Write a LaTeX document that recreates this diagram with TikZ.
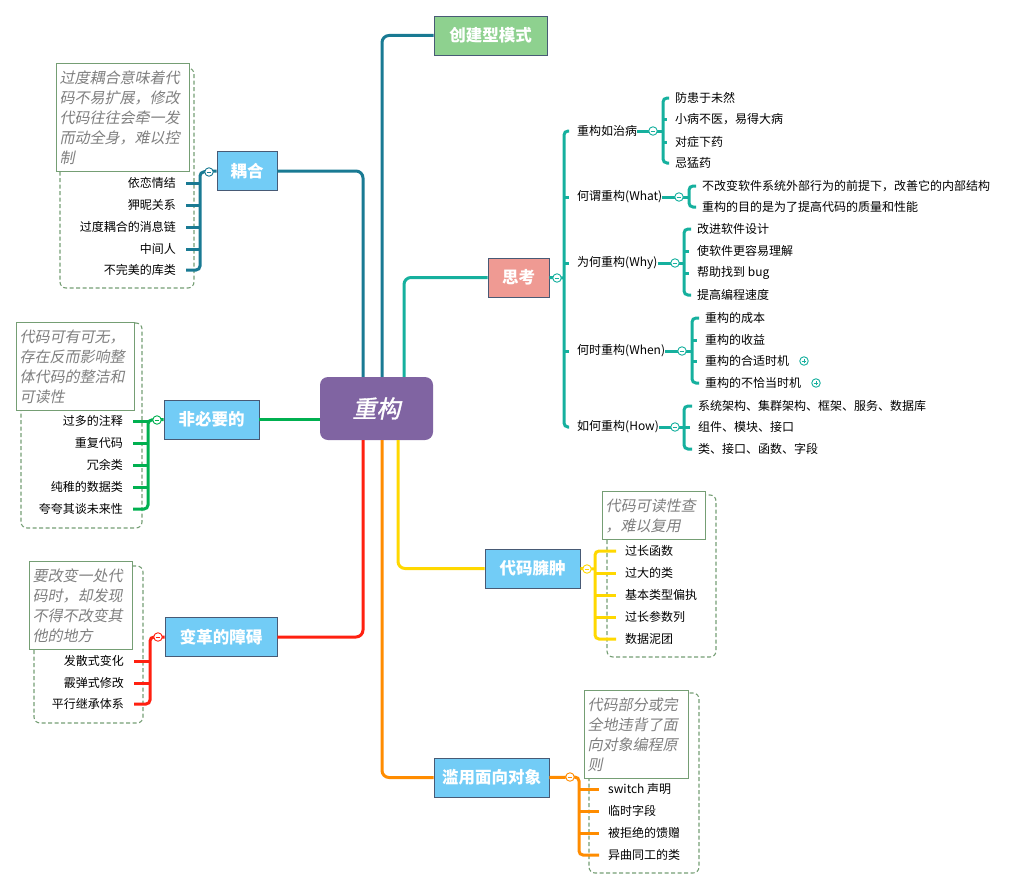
\documentclass[tikz,border=0pt]{standalone}
\usepackage{fontspec}
\setmainfont{Noto Sans CJK SC}
\newfontfamily\slantfont[FakeSlant=0.2]{Noto Sans CJK SC}
\newfontfamily\rootfont[FakeSlant=0.2,FakeBold=1.5]{Noto Sans CJK SC}

\definecolor{cpl}{HTML}{197A93}
\definecolor{sk}{HTML}{16B09E}
\definecolor{grn}{HTML}{00B050}
\definecolor{rd}{HTML}{FF2010}
\definecolor{ylw}{HTML}{FFD800}
\definecolor{org}{HTML}{FF8C00}
\definecolor{topicblue}{HTML}{72CCF6}
\definecolor{topicgreen}{HTML}{8ED18F}
\definecolor{topicred}{HTML}{EF9A93}
\definecolor{topicdraw}{HTML}{485A75}
\definecolor{rootpurple}{HTML}{8064A2}
\definecolor{notegreen}{HTML}{759E74}
\definecolor{notegrey}{HTML}{7F7F7F}

\tikzset{
  rootbox/.style={fill=rootpurple, rounded corners=8pt, text=white, minimum width=113pt, minimum height=63pt, font=\rootfont\fontsize{24}{24}\selectfont},
  topic/.style={draw=topicdraw, line width=0.8pt, fill=topicblue, text=white, font=\bfseries\fontsize{16.5}{17}\selectfont, minimum height=39pt, inner sep=0pt},
  leaf/.style={font=\fontsize{12}{14}\selectfont, inner sep=0pt},
  note/.style={draw=notegreen, line width=1.3pt, fill=white, text=notegrey, font=\slantfont\fontsize{15}{20}\selectfont, align=left, anchor=north west, inner sep=3pt},
  group/.style={draw=notegreen, dash pattern=on 4pt off 2.5pt, line width=1.1pt, rounded corners=6pt},
  branch/.style={line width=3pt, rounded corners=7pt},
  twig/.style={line width=3pt, rounded corners=4pt},
  tog/.style={circle, draw, fill=white, line width=0.9pt, minimum size=8.5pt, inner sep=0pt,
    path picture={\draw[line width=0.7pt] ([xshift=-2.3pt]path picture bounding box.center) -- ([xshift=2.3pt]path picture bounding box.center);}},
  togplus/.style={circle, draw, fill=white, line width=0.9pt, minimum size=8.5pt, inner sep=0pt,
    path picture={\draw[line width=0.7pt] ([xshift=-2.3pt]path picture bounding box.center) -- ([xshift=2.3pt]path picture bounding box.center)
      ([yshift=-2.3pt]path picture bounding box.center) -- ([yshift=2.3pt]path picture bounding box.center);}},
}

\begin{document}
\begin{tikzpicture}[x=1pt,y=-1pt]
    \useasboundingbox (0,0) rectangle (1019,891);
    % centre and main topics
    \node[rootbox] (root) at (376.5,408.5) {重构};
    \node[topic,minimum width=60pt] (ouhe) at (247,171) {耦合};
    \node[topic,minimum width=113pt,fill=topicgreen] (cjx) at (490.5,35.5) {创建型模式};
    \node[topic,minimum width=61pt,fill=topicred] (sk) at (518.5,277.5) {思考};
    \node[topic,minimum width=95pt] (fbl) at (211.5,419.5) {非必要的};
    \node[topic,minimum width=112pt] (bg) at (221,637) {变革的障碍};
    \node[topic,minimum width=95pt] (yz) at (532.5,568.5) {代码臃肿};
    \node[topic,minimum width=115pt] (ly) at (491.5,777.5) {滥用面向对象};

    \draw[branch,cpl] ([xshift=-13.5pt]root.north) |- (ouhe.east);
    \draw[branch,cpl] ([xshift=5.5pt]root.north) |- (cjx.west);
    \draw[branch,sk] ([xshift=27.5pt]root.north) |- (sk.west);
    \draw[branch,grn] (root.west |- fbl.east) -- (fbl.east);
    \draw[branch,rd] ([xshift=-13.5pt]root.south) |- (bg.east);
    \draw[branch,ylw] ([xshift=21.5pt]root.south) |- (yz.west);
    \draw[branch,org] ([xshift=5.5pt]root.south) |- (ly.west);

    % 耦合
    \draw[group] (60,68) rectangle (194,288);
    \node[note,text width=127pt,minimum height=108pt] (ouheN) at (56,63) {过度耦合意味着代\\码不易扩展，修改\\代码往往会牵一发\\而动全身，难以控\\制};
    \node[leaf,anchor=east] (o1) at (176,183) {依恋情结};
    \node[leaf,anchor=east] (o2) at (176,205) {狎昵关系};
    \node[leaf,anchor=east] (o3) at (176,227) {过度耦合的消息链};
    \node[leaf,anchor=east] (o4) at (176,249) {中间人};
    \node[leaf,anchor=east] (o5) at (176,270) {不完美的库类};
    \coordinate (ouheB) at (200,172);
    \draw[twig,cpl] (ouhe.west) -- (ouheB) -- (ouheB |- o5.east) -- ([xshift=10pt]o5.east);
    \draw[twig,cpl] ([xshift=10pt]o1.east) -- (ouheB |- o1.east);
    \draw[twig,cpl] ([xshift=10pt]o2.east) -- (ouheB |- o2.east);
    \draw[twig,cpl] ([xshift=10pt]o3.east) -- (ouheB |- o3.east);
    \draw[twig,cpl] ([xshift=10pt]o4.east) -- (ouheB |- o4.east);
    \node[tog,draw=cpl] (ouheT) at (209,172) {};

    % 非必要的
    \draw[group] (21,323) rectangle (142,528);
    \node[note,text width=112pt,minimum height=88pt] (fblN) at (16,322) {代码可有可无，\\存在反而影响整\\体代码的整洁和\\可读性};
    \node[leaf,anchor=east] (f1) at (123,421) {过多的注释};
    \node[leaf,anchor=east] (f2) at (123,443) {重复代码};
    \node[leaf,anchor=east] (f3) at (123,465) {冗余类};
    \node[leaf,anchor=east] (f4) at (123,487) {纯稚的数据类};
    \node[leaf,anchor=east] (f5) at (123,509) {夸夸其谈未来性};
    \coordinate (fblB) at (148,420);
    \draw[twig,grn] (fbl.west) -- (fblB) -- (fblB |- f5.east) -- ([xshift=10pt]f5.east);
    \draw[twig,grn] ([xshift=10pt]f1.east) -- (fblB |- f1.east);
    \draw[twig,grn] ([xshift=10pt]f2.east) -- (fblB |- f2.east);
    \draw[twig,grn] ([xshift=10pt]f3.east) -- (fblB |- f3.east);
    \draw[twig,grn] ([xshift=10pt]f4.east) -- (fblB |- f4.east);
    \node[tog,draw=grn] (fblT) at (157,420) {};

    % 变革的障碍
    \draw[group] (34,566) rectangle (143,723);
    \node[note,text width=97pt,minimum height=88pt] (bgN) at (29,561) {要改变一处代\\码时，却发现\\不得不改变其\\他的地方};
    \node[leaf,anchor=east] (b1) at (124,661) {发散式变化};
    \node[leaf,anchor=east] (b2) at (124,683) {霰弹式修改};
    \node[leaf,anchor=east] (b3) at (124,704) {平行继承体系};
    \coordinate (bgB) at (150,637);
    \draw[twig,rd] (bg.west) -- (bgB) -- (bgB |- b3.east) -- ([xshift=10pt]b3.east);
    \draw[twig,rd] ([xshift=10pt]b1.east) -- (bgB |- b1.east);
    \draw[twig,rd] ([xshift=10pt]b2.east) -- (bgB |- b2.east);
    \node[tog,draw=rd] (bgT) at (158,637) {};

    % 代码臃肿
    \draw[group] (607,495) rectangle (716,657);
    \node[note,text width=97pt,minimum height=48pt] (yzN) at (602,491) {代码可读性查\\，难以复用};
    \node[leaf,anchor=west] (y1) at (625,551) {过长函数};
    \node[leaf,anchor=west] (y2) at (625,573) {过大的类};
    \node[leaf,anchor=west] (y3) at (625,595) {基本类型偏执};
    \node[leaf,anchor=west] (y4) at (625,617) {过长参数列};
    \node[leaf,anchor=west] (y5) at (625,639) {数据泥团};
    \coordinate (yzB) at (595,569);
    \draw[twig,ylw] (yz.east) -- (yzB);
    \draw[twig,ylw] ([xshift=-9pt]y1.west) -- (yzB |- y1.west) -- (yzB |- y5.west) -- ([xshift=-9pt]y5.west);
    \draw[twig,ylw] (yzB |- y2.west) -- ([xshift=-9pt]y2.west);
    \draw[twig,ylw] (yzB |- y3.west) -- ([xshift=-9pt]y3.west);
    \draw[twig,ylw] (yzB |- y4.west) -- ([xshift=-9pt]y4.west);
    \node[tog,draw=ylw] (yzT) at (587,569) {};

    % 滥用面向对象
    \draw[group] (589,693) rectangle (699,873);
    \node[note,text width=98pt,minimum height=88pt] (lyN) at (584,690) {代码部分或完\\全地违背了面\\向对象编程原\\则};
    \node[leaf,anchor=west] (l1) at (608,789) {switch 声明};
    \node[leaf,anchor=west] (l2) at (608,811) {临时字段};
    \node[leaf,anchor=west] (l3) at (608,833) {被拒绝的馈赠};
    \node[leaf,anchor=west] (l4) at (608,855) {异曲同工的类};
    \coordinate (lyB) at (579,777);
    \draw[twig,org] (ly.east) -- (lyB) -- (lyB |- l4.west) -- ([xshift=-9pt]l4.west);
    \draw[twig,org] (lyB |- l1.west) -- ([xshift=-9pt]l1.west);
    \draw[twig,org] (lyB |- l2.west) -- ([xshift=-9pt]l2.west);
    \draw[twig,org] (lyB |- l3.west) -- ([xshift=-9pt]l3.west);
    \node[tog,draw=org] (lyT) at (570,777) {};

    % 思考
    \node[leaf,anchor=west] (s1) at (577,131) {重构如治病};
    \node[leaf,anchor=west] (s2) at (577,197) {何谓重构(What)};
    \node[leaf,anchor=west] (s3) at (577,263) {为何重构(Why)};
    \node[leaf,anchor=west] (s4) at (577,351) {何时重构(When)};
    \node[leaf,anchor=west] (s5) at (577,427) {如何重构(How)};
    \coordinate (skB) at (564,278);
    \draw[twig,sk] (sk.east) -- (skB);
    \draw[twig,sk] ([xshift=-8pt]s1.west) -- (skB |- s1.west) -- (skB |- s5.west) -- ([xshift=-8pt]s5.west);
    \draw[twig,sk] (skB |- s2.west) -- ([xshift=-8pt]s2.west);
    \draw[twig,sk] (skB |- s3.west) -- ([xshift=-8pt]s3.west);
    \draw[twig,sk] (skB |- s4.west) -- ([xshift=-8pt]s4.west);
    \node[tog,draw=sk] (skT) at (557,278) {};

    % 重构如治病
    \node[leaf,anchor=west] (s11) at (675,98) {防患于未然};
    \node[leaf,anchor=west] (s12) at (675,119) {小病不医，易得大病};
    \node[leaf,anchor=west] (s13) at (675,142) {对症下药};
    \node[leaf,anchor=west] (s14) at (675,163) {忌猛药};
    \coordinate (s1B) at (663,131);
    \draw[twig,sk] (s1.east) -- (s1B);
    \draw[twig,sk] ([xshift=-6pt]s11.west) -- (s1B |- s11.west) -- (s1B |- s14.west) -- ([xshift=-6pt]s14.west);
    \draw[twig,sk] (s1B |- s12.west) -- ([xshift=-8pt]s12.west);
    \draw[twig,sk] (s1B |- s13.west) -- ([xshift=-8pt]s13.west);
    \node[tog,draw=sk] (s1T) at (653,131) {};

    % 何谓重构
    \node[leaf,anchor=west] (s21) at (702,186) {不改变软件系统外部行为的前提下，改善它的内部结构};
    \node[leaf,anchor=west] (s22) at (702,207) {重构的目的是为了提高代码的质量和性能};
    \coordinate (s2B) at (689,197);
    \draw[twig,sk] (s2.east) -- (s2B);
    \draw[twig,sk] ([xshift=-6pt]s21.west) -- (s2B |- s21.west) -- (s2B |- s22.west) -- ([xshift=-6pt]s22.west);
    \node[tog,draw=sk] (s2T) at (679,197) {};

    % 为何重构
    \node[leaf,anchor=west] (s31) at (697,229) {改进软件设计};
    \node[leaf,anchor=west] (s32) at (697,251) {使软件更容易理解};
    \node[leaf,anchor=west] (s33) at (697,273) {帮助找到 bug};
    \node[leaf,anchor=west] (s34) at (697,295) {提高编程速度};
    \coordinate (s3B) at (684,263);
    \draw[twig,sk] (s3.east) -- (s3B);
    \draw[twig,sk] ([xshift=-6pt]s31.west) -- (s3B |- s31.west) -- (s3B |- s34.west) -- ([xshift=-6pt]s34.west);
    \draw[twig,sk] (s3B |- s32.west) -- ([xshift=-8pt]s32.west);
    \draw[twig,sk] (s3B |- s33.west) -- ([xshift=-8pt]s33.west);
    \node[tog,draw=sk] (s3T) at (675,263) {};

    % 何时重构
    \node[leaf,anchor=west] (s41) at (705,318) {重构的成本};
    \node[leaf,anchor=west] (s42) at (705,340) {重构的收益};
    \node[leaf,anchor=west] (s43) at (705,361) {重构的合适时机};
    \node[leaf,anchor=west] (s44) at (705,383) {重构的不恰当时机};
    \coordinate (s4B) at (692,351);
    \draw[twig,sk] (s4.east) -- (s4B);
    \draw[twig,sk] ([xshift=-6pt]s41.west) -- (s4B |- s41.west) -- (s4B |- s44.west) -- ([xshift=-6pt]s44.west);
    \draw[twig,sk] (s4B |- s42.west) -- ([xshift=-8pt]s42.west);
    \draw[twig,sk] (s4B |- s43.west) -- ([xshift=-8pt]s43.west);
    \node[tog,draw=sk] (s4T) at (682,351) {};
    \node[togplus,draw=sk] (s43T) at (804,361) {};
    \node[togplus,draw=sk] (s44T) at (816,383) {};

    % 如何重构
    \node[leaf,anchor=west] (s51) at (698,406) {系统架构、集群架构、框架、服务、数据库};
    \node[leaf,anchor=west] (s52) at (698,427) {组件、模块、接口};
    \node[leaf,anchor=west] (s53) at (698,449) {类、接口、函数、字段};
    \coordinate (s5B) at (684,427);
    \draw[twig,sk] (s5.east) -- (s5B);
    \draw[twig,sk] ([xshift=-6pt]s51.west) -- (s5B |- s51.west) -- (s5B |- s53.west) -- ([xshift=-6pt]s53.west);
    \draw[twig,sk] (s5B |- s52.west) -- ([xshift=-8pt]s52.west);
    \node[tog,draw=sk] (s5T) at (675,427) {};
\end{tikzpicture}
\end{document}
